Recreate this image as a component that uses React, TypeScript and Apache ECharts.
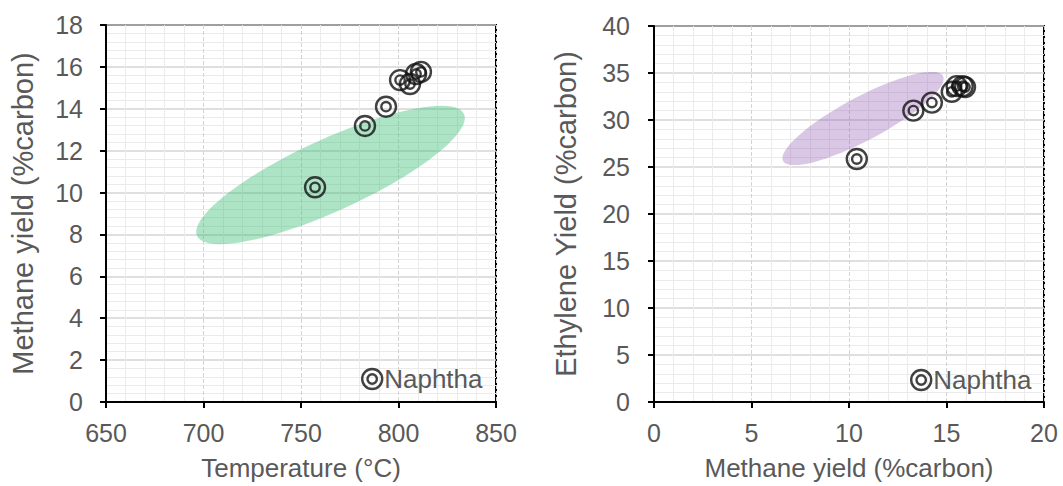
import React, { useEffect, useRef } from 'react';
import * as echarts from 'echarts';

// Left panel: Temperature (°C) vs Methane yield (%carbon)
const temperature = [757.2, 782.8, 793.6, 800.8, 805.9, 809.0, 811.5];
const methaneYieldLeft = [10.25, 13.18, 14.1, 15.37, 15.18, 15.66, 15.76];
// Right panel: Methane yield (%carbon) vs Ethylene yield (%carbon)
const methaneYieldRight = [10.4, 13.3, 14.25, 15.27, 15.52, 15.83, 15.95];
const ethyleneYield = [25.85, 31.0, 31.85, 33.0, 33.6, 33.6, 33.5];

// Shaded ellipses: major-axis endpoints (data units) + minor/major ratio
const greenEllipse = [696.7, 7.93, 833.6, 13.75, 0.245];
const purpleEllipse = [6.62, 25.64, 14.82, 34.68, 0.24];

const seriesName = 'Naphtha';
const leftXAxis = { min: 650, max: 850, interval: 50, title: 'Temperature (°C)' };
const leftYAxis = { min: 0, max: 18, interval: 2, title: 'Methane yield (%carbon)' };
const rightXAxis = { min: 0, max: 20, interval: 5, title: 'Methane yield (%carbon)' };
const rightYAxis = { min: 0, max: 40, interval: 5, title: 'Ethylene Yield (%carbon)' };

const FONT = '"Liberation Sans", Arial, sans-serif';
const TEXT = '#595959';
const SYMBOL =
  'path://M0,10A10,10,0,1,0,20,10A10,10,0,1,0,0,10ZM5.3,10A4.7,4.7,0,1,0,14.7,10A4.7,4.7,0,1,0,5.3,10Z';

function axis(
  gridIndex: number,
  cfg: { min: number; max: number; interval: number; title: string },
  isX: boolean,
  nameGap: number,
  nameSize: number,
  labelMargin: number
) {
  return {
    type: 'value',
    gridIndex,
    min: cfg.min,
    max: cfg.max,
    interval: cfg.interval,
    name: cfg.title,
    nameLocation: 'middle',
    nameGap,
    nameTextStyle: { color: TEXT, fontSize: nameSize, fontFamily: FONT },
    axisLine: { show: true, onZero: false, lineStyle: { color: '#000', width: 2 } },
    axisTick: { show: true, inside: false, length: 6, lineStyle: { color: '#000', width: 2 } },
    axisLabel: { color: TEXT, fontSize: 25, fontFamily: FONT, margin: labelMargin },
    splitLine: {
      show: true,
      lineStyle: { color: '#d4d4d4', width: isX ? 1 : 1.5, type: isX ? 'dashed' : 'solid' },
    },
    minorTick: { show: false, splitNumber: 5 },
    minorSplitLine: { show: true, lineStyle: { color: '#ebebeb', width: 1 } },
  };
}

function ellipseSeries(gridIdx: number, params: number[], color: string) {
  return {
    type: 'custom',
    name: 'range' + gridIdx,
    xAxisIndex: gridIdx,
    yAxisIndex: gridIdx,
    silent: true,
    z: 1,
    data: [params],
    renderItem: (_p: any, api: any) => {
      const p1 = api.coord([api.value(0), api.value(1)]);
      const p2 = api.coord([api.value(2), api.value(3)]);
      const ratio = api.value(4);
      const cx = (p1[0] + p2[0]) / 2;
      const cy = (p1[1] + p2[1]) / 2;
      const dx = p2[0] - p1[0];
      const dy = p2[1] - p1[1];
      const a = Math.sqrt(dx * dx + dy * dy) / 2;
      const b = a * ratio;
      const ang = Math.atan2(dy, dx);
      const ca = Math.cos(ang);
      const sa = Math.sin(ang);
      const points: number[][] = [];
      for (let i = 0; i < 90; i++) {
        const t = (i / 90) * Math.PI * 2;
        const u = a * Math.cos(t);
        const v = b * Math.sin(t);
        points.push([cx + u * ca - v * sa, cy + u * sa + v * ca]);
      }
      return { type: 'polygon', shape: { points }, style: { fill: color } };
    },
  };
}

function scatterSeries(gridIdx: number, xs: number[], ys: number[]) {
  return {
    type: 'scatter',
    name: seriesName,
    xAxisIndex: gridIdx,
    yAxisIndex: gridIdx,
    z: 3,
    symbol: SYMBOL,
    symbolSize: 20,
    itemStyle: { color: 'rgba(0,0,0,0)', borderColor: '#111', borderWidth: 2.4 },
    data: xs.map((x, i) => [x, ys[i]]),
  };
}

function legend(left: number, top: number) {
  return {
    data: [seriesName],
    left,
    top,
    orient: 'horizontal',
    icon: SYMBOL,
    itemWidth: 20,
    itemHeight: 20,
    itemStyle: { color: 'rgba(0,0,0,0)', borderColor: '#111', borderWidth: 2.4 },
    textStyle: { color: TEXT, fontSize: 26, fontFamily: FONT, padding: [0, 0, 0, -3] },
    selectedMode: false,
  };
}

export default function App() {
  const ref = useRef<HTMLDivElement>(null);
  useEffect(() => {
    if (!ref.current) return;
    const chart = echarts.init(ref.current, null, { renderer: 'svg' });
    chart.setOption({
      animation: false,
      backgroundColor: '#ffffff',
      textStyle: { fontFamily: FONT },
      grid: [
        { left: 106, top: 25, width: 390, height: 377, show: true, borderColor: '#000', borderWidth: 2 },
        { left: 654, top: 26, width: 390, height: 376, show: true, borderColor: '#000', borderWidth: 2 },
      ],
      xAxis: [
        axis(0, leftXAxis, true, 53, 26, 18),
        axis(1, rightXAxis, true, 53, 26, 18),
      ],
      yAxis: [
        axis(0, leftYAxis, false, 69, 29, 23),
        axis(1, rightYAxis, false, 74, 29, 24),
      ],
      legend: [legend(356, 361), legend(905, 362)],
      series: [
        ellipseSeries(0, greenEllipse, 'rgba(60,190,120,0.42)'),
        ellipseSeries(1, purpleEllipse, 'rgba(130,70,170,0.3)'),
        scatterSeries(0, temperature, methaneYieldLeft),
        scatterSeries(1, methaneYieldRight, ethyleneYield),
      ],
    });
    return () => chart.dispose();
  }, []);
  return (
    <div
      ref={ref}
      style={{ position: 'absolute', left: 0, top: 0, width: 1063, height: 486 }}
    />
  );
}
